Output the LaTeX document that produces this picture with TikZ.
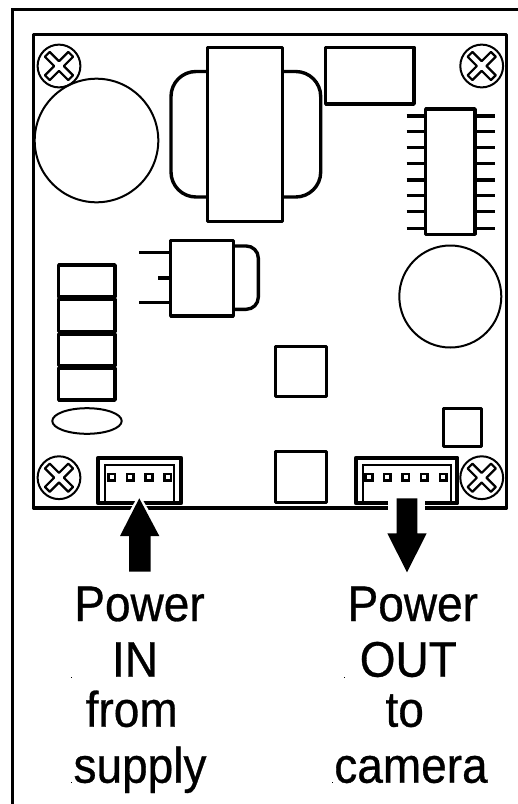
\documentclass[tikz,border=0pt]{standalone}
\usepackage{fontspec}
\setmainfont{Liberation Sans}
\newfontfamily\labelfont[FakeBold=0.6,FakeStretch=0.92]{Liberation Sans}
\tikzset{
  part/.style={draw=black,line width=3.4pt,line join=round},
  thin part/.style={draw=black,line width=2pt},
  pin/.style={draw=black,line width=3.4pt},
  label text/.style={anchor=base,inner sep=0pt,font=\labelfont\fontsize{50}{50}\selectfont},
  speck/.style={fill=black,inner sep=0pt,minimum size=0.9pt},
  screw/.pic={
    \draw[thin part] (0,0) circle (21.4);
    \draw[draw=black,line width=2.2pt,line join=round,rotate=45]
      (-3.4,-3.4) -- (-3.4,-16.5) -- (3.4,-16.5) -- (3.4,-3.4) -- (16.5,-3.4) -- (16.5,3.4)
      -- (3.4,3.4) -- (3.4,16.5) -- (-3.4,16.5) -- (-3.4,3.4) -- (-16.5,3.4) -- (-16.5,-3.4) -- cycle;
  },
  pinbox/.style={draw=black,line width=2.8pt,minimum size=6.6pt,inner sep=0pt}
}
\begin{document}
\begin{tikzpicture}[x=1pt,y=-1pt]
\useasboundingbox (0,0) rectangle (518,804);
% frame
\draw[line width=3.2pt] (12.5,804) -- (12.5,9.5) -- (518,9.5);
% board
\draw[part] (33.5,34.5) rectangle (506.5,508);
% screws
\pic at (59,66) {screw};
\pic at (481.7,66) {screw};
\pic at (59,477.7) {screw};
\pic at (481.7,477.7) {screw};
% large capacitors
\draw[thin part] (96.5,140.5) circle (61.8);
\draw[thin part] (450.3,296.5) circle (51);
% transformer
\draw[part,rounded corners=25pt] (207.5,71.5) -- (171,71.5) -- (171,197) -- (207.5,197);
\draw[part,rounded corners=25pt] (282.7,71.5) -- (320.7,71.5) -- (320.7,197) -- (282.7,197);
\draw[part] (207.5,47.3) rectangle (282.7,221.7);
% relay
\draw[part] (325.7,47.3) rectangle (414,104);
% IC
\foreach \py in {116,131.7,147.3,163.3,180,195.7,211.7,228.3}{
  \draw[pin] (406.7,\py) -- (425.7,\py);
  \draw[pin] (475,\py) -- (495,\py);
}
\draw[part] (425.7,109) rectangle (475,234.3);
% regulator
\draw[pin] (139.3,252.7) -- (170.7,252.7);
\draw[pin] (158.3,278) -- (170.7,278);
\draw[pin] (139.3,302.7) -- (170.7,302.7);
\draw[part,rounded corners=12pt] (233.3,246) -- (258.3,246) -- (258.3,309.3) -- (233.3,309.3);
\draw[part] (170.7,240.7) rectangle (233.3,316);
% stack
\draw[part] (58.7,265) rectangle (115,297);
\draw[part] (58.7,299) rectangle (115,331.5);
\draw[part] (58.7,334) rectangle (115,365.5);
\draw[part] (58.7,368) rectangle (115,400);
% oval
\draw[thin part] (87,421) ellipse (34.7 and 12.8);
% squares
\draw[part] (275.7,346.7) rectangle (326.7,396.7);
\draw[part] (275.7,451.7) rectangle (326.7,502.7);
\draw[part] (443.3,408.3) rectangle (481.7,446.7);
% left connector
\draw[draw=black,line width=4pt,line join=round] (98.3,457.7) rectangle (181,503.3);
\draw[line width=1.9pt] (105.3,503) -- (105.3,465) -- (174.3,465) -- (174.3,503);
\foreach \n/\px in {a/111.7,b/130.3,c/149,d/167.7}{
  \node[pinbox] (l\n) at (\px,477.3) {};
}
% right connector
\draw[draw=black,line width=4pt,line join=round] (356,457.7) rectangle (457.3,503.3);
\draw[line width=1.9pt] (362.7,503) -- (362.7,465) -- (451,465) -- (451,503);
\foreach \n/\px in {a/369,b/387.3,c/405.7,d/424.3,e/443.3}{
  \node[pinbox] (r\n) at (\px,477.3) {};
}
% arrow in
\draw[draw=white,line width=8pt,line join=round,fill=white]
  (139.3,502) -- (159.3,536) -- (120,536) -- cycle;
\fill[black] (139.3,498.3) -- (159.3,536) -- (150.7,536) -- (150.7,571.7) -- (129,571.7) -- (129,536) -- (120,536) -- cycle;
% arrow out
\fill[white] (388.3,498.3) rectangle (425,512);
\fill[black] (396.7,498.3) -- (417.3,498.3) -- (417.3,533.3) -- (426.7,533.3) -- (407,572.3) -- (387.3,533.3) -- (396.7,533.3) -- cycle;
% labels
\node[label text] (t1) at (139.5,621) {Power};
\node[label text] (t2) at (135,676.7) {IN};
\node[label text] (t3) at (131.7,726.7) {from};
\node[label text] (t4) at (140,782.7) {supply};
\node[label text] (t5) at (412.8,621) {Power};
\node[label text] (t6) at (408.3,676.7) {OUT};
\node[label text] (t7) at (404.7,726.7) {to};
\node[label text] (t8) at (411,782.7) {camera};
% specks
\node[speck] (s1) at (71.5,677.3) {};
\node[speck] (s2) at (71.5,782.7) {};
\node[speck] (s3) at (344.5,677.3) {};
\node[speck] (s4) at (332.5,782.7) {};
\end{tikzpicture}
\end{document}
